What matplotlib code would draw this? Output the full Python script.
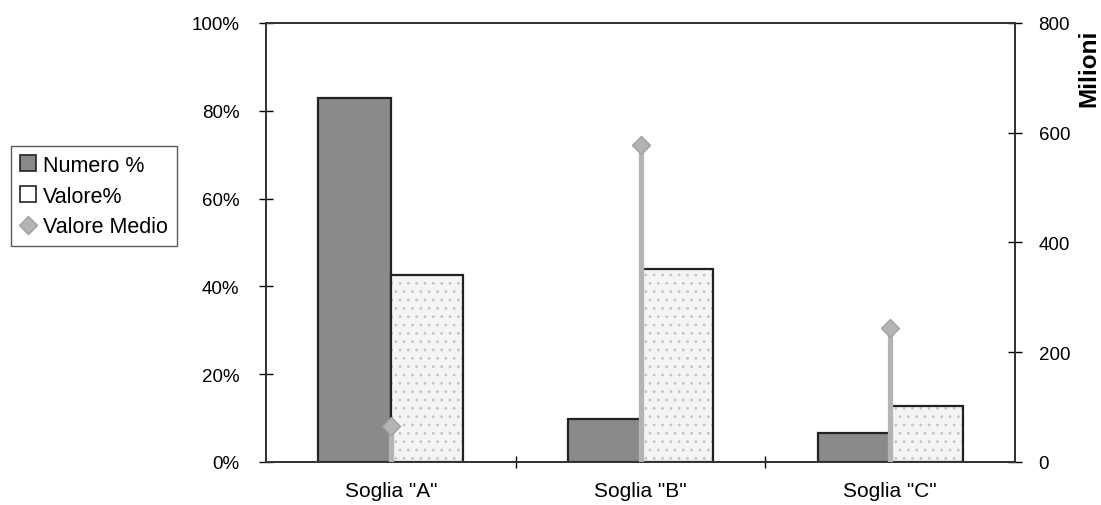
import numpy as np
import matplotlib.pyplot as plt
from matplotlib.lines import Line2D
from matplotlib.patches import Patch

soglie = ['Soglia "A"', 'Soglia "B"', 'Soglia "C"']
numero_pct = [0.83, 0.097, 0.066]
valore_pct = [0.425, 0.44, 0.127]
valore_medio = [65, 578, 245]  # milioni

plt.rcParams['font.family'] = ['Liberation Sans', 'DejaVu Sans']
plt.rcParams['font.size'] = 13.5
plt.rcParams['hatch.linewidth'] = 0.8

fig = plt.figure(figsize=(11.01, 5.06), dpi=100)
ax = fig.add_axes([0.2416, 0.085, 0.6803, 0.8676])
ax2 = ax.twinx()

x = np.arange(len(soglie))
w = 0.29
dark = '#8a8a8a'
light = '#f4f4f4'
medio_col = '#b4b4b4'
edge = '#222222'

ax.bar(x - w / 2, numero_pct, w, color=dark, edgecolor=edge, linewidth=1.6, zorder=2)
# light dotted fill, then the outline on top
ax.bar(x + w / 2, valore_pct, w, color=light, edgecolor='#c4c4c4', linewidth=0,
       hatch='..', zorder=2)
ax.bar(x + w / 2, valore_pct, w, fill=False, edgecolor=edge, linewidth=1.6, zorder=2)

ax2.vlines(x, 0, valore_medio, colors=medio_col, linewidth=3.8, zorder=3)
ax2.plot(x, valore_medio, linestyle='none', marker='D', markersize=9,
         color=medio_col, markeredgecolor='#a0a0a0', zorder=4)

ax.set_xlim(-0.5, 2.5)
ax.set_ylim(0, 1)
ax2.set_ylim(0, 800)

ax.set_yticks(np.arange(0, 1.01, 0.2))
ax.set_yticklabels(['%d%%' % round(v * 100) for v in np.arange(0, 1.01, 0.2)])
ax2.set_yticks(range(0, 801, 200))

# category ticks on boundaries, labels in the middle
ax.set_xticks([0.5, 1.5])
ax.set_xticklabels([])
ax.set_xticks(x, minor=True)
ax.set_xticklabels(soglie, minor=True, fontsize=15)
ax.tick_params(axis='x', which='major', direction='inout', length=8, width=1)
ax.tick_params(axis='x', which='minor', length=0, pad=14)
ax.tick_params(axis='y', direction='inout', length=10, width=1, pad=14)
ax2.tick_params(axis='y', direction='inout', length=10, width=1, pad=12)

for a in (ax, ax2):
    for s in a.spines.values():
        s.set_linewidth(1.3)
        s.set_color('#333333')

ax2.set_ylabel('Milioni', fontweight='bold', fontsize=17.5)
ax2.yaxis.set_label_coords(1.083, 0.9)

handles = [
    Patch(facecolor=dark, edgecolor=edge, linewidth=1.2),
    Patch(facecolor='white', edgecolor=edge, linewidth=1.2),
    Line2D([], [], linestyle='none', marker='D', markersize=9,
           color=medio_col, markeredgecolor='#a0a0a0'),
]
leg = fig.legend(handles, ['Numero %', 'Valore%', 'Valore Medio'],
                 loc='upper left', bbox_to_anchor=(0.01, 0.709), fontsize=15.5,
                 frameon=True, fancybox=False, edgecolor='#333333',
                 handlelength=0.75, handleheight=0.75, handletextpad=0.35,
                 borderpad=0.4, labelspacing=0.45, borderaxespad=0)
leg.get_frame().set_linewidth(1.0)

fig.savefig('out.png', dpi=100)
